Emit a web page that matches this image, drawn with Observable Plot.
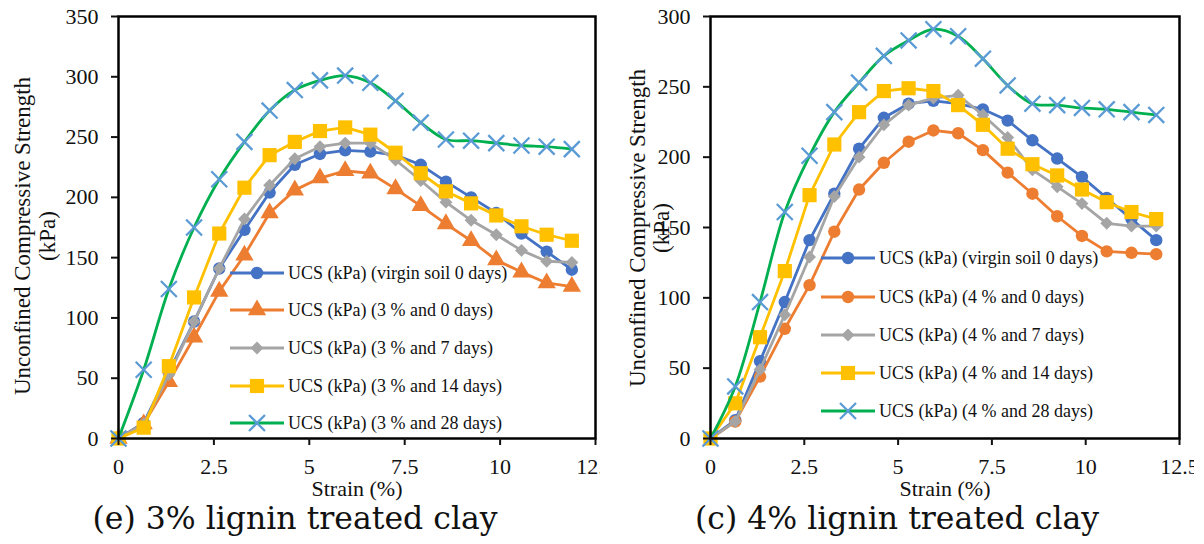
<!DOCTYPE html>
<html>
<head>
<meta charset="utf-8">
<script src="https://cdn.jsdelivr.net/npm/d3@7"></script>
<script src="https://cdn.jsdelivr.net/npm/@observablehq/plot@0.6"></script>
<style>
  html, body { margin: 0; padding: 0; background: white; }
  #wrap { position: relative; width: 1204px; height: 544px; overflow: hidden; background: white; }
  .panel { position: absolute; top: 0; height: 544px; overflow: hidden; }
  .caption { position: absolute; font-family: "DejaVu Serif", serif; font-size: 31.5px; color: #111; white-space: nowrap; transform: translateX(-50%); }
</style>
</head>
<body>
<div id="wrap">
  <div class="panel" id="left" style="left:0px; width:600px;"></div>
  <div class="panel" id="right" style="left:600px; width:594px;"></div>
  <div class="caption" style="left:295px; top:500px;">(e) 3% lignin treated clay</div>
  <div class="caption" style="left:897px; top:500px;">(c) 4% lignin treated clay</div>
</div>
<script>
// ---------------- data ----------------
const strain = [0, 0.66, 1.32, 1.98, 2.64, 3.3, 3.96, 4.62, 5.28, 5.94, 6.6, 7.26, 7.92, 8.58, 9.24, 9.9, 10.56, 11.22, 11.88];

// (e) 3% lignin treated clay
const virgin3 = [0, 13, 55, 97, 141, 173, 204, 227, 236, 239, 238, 235, 227, 213, 200, 187, 170, 155, 140];
const lig3d0  = [0, 12, 47, 84, 122, 152, 187, 206, 216, 222, 220, 207, 193, 178, 164, 148, 138, 129, 126];
const lig3d7  = [0, 12, 53, 97, 141, 182, 210, 232, 242, 245, 245, 231, 214, 196, 181, 169, 156, 147, 146];
const lig3d14 = [0, 9, 60, 117, 170, 208, 235, 246, 255, 258, 252, 237, 220, 205, 195, 185, 176, 169, 164];
const lig3d28 = [0, 57, 124, 175, 215, 246, 272, 289, 297, 301, 295, 280, 262, 248, 247, 245, 243, 242, 240];

// (c) 4% lignin treated clay
const virgin4 = [0, 13, 55, 97, 141, 174, 206, 228, 238, 240, 238, 234, 226, 212, 199, 186, 171, 156, 141];
const lig4d0  = [0, 12, 44, 78, 109, 147, 177, 196, 211, 219, 217, 205, 189, 174, 158, 144, 133, 132, 131];
const lig4d7  = [0, 12, 49, 88, 129, 172, 200, 223, 237, 242, 244, 230, 214, 191, 179, 167, 153, 151, 151];
const lig4d14 = [0, 25, 72, 119, 173, 209, 232, 247, 249, 247, 237, 223, 206, 195, 187, 177, 168, 161, 156];
const lig4d28 = [0, 37, 97, 161, 201, 232, 253, 272, 283, 291, 286, 270, 251, 238, 237, 235, 234, 232, 230];

const legend3 = ["UCS (kPa) (virgin soil 0 days)", "UCS (kPa) (3 % and 0 days)", "UCS (kPa) (3 % and 7 days)", "UCS (kPa) (3 % and 14 days)", "UCS (kPa) (3 % and 28 days)"];
const legend4 = ["UCS (kPa) (virgin soil 0 days)", "UCS (kPa) (4 % and 0 days)", "UCS (kPa) (4 % and 7 days)", "UCS (kPa) (4 % and 14 days)", "UCS (kPa) (4 % and 28 days)"];

const xTicks = [0, 2.5, 5, 7.5, 10, 12.5];
const yTicks3 = [0, 50, 100, 150, 200, 250, 300, 350];
const yTicks4 = [0, 50, 100, 150, 200, 250, 300];

const yTitle = "Unconfined Compressive Strength";
const yUnit = "(kPa)";
const xTitle = "Strain (%)";

// ---------------- styles ----------------
const lineColors   = ["#4472C4", "#ED7D31", "#A5A5A5", "#FFC000", "#00B050"];
const markerColors = ["#4472C4", "#ED7D31", "#A5A5A5", "#FFC000", "#5B9BD5"];
const symbols3 = ["circle", "triangle", "diamond2", "square", "times"];
const symbols4 = ["circle", "circle", "diamond2", "square", "times"];
const radii = {circle: 6.2, triangle: 6.8, diamond2: 5.8, square: 8, times: 7.3};
const serif = "Liberation Serif";

function makePanel(cfg) {
  const table = cfg.series.map((vals, k) => strain.map((s, i) => ({strain: s, ucs: vals[i], k})));
  const marks = [];
  table.forEach((rows, k) => {
    marks.push(Plot.line(rows, {x: "strain", y: "ucs", stroke: lineColors[k], strokeWidth: 2.8,
      curve: k === 4 ? "catmull-rom" : "linear"}));
    const sym = cfg.symbols[k];
    if (sym === "times") {
      marks.push(Plot.dot(rows, {x: "strain", y: "ucs", symbol: sym, r: radii[sym], stroke: markerColors[k], strokeWidth: 2.3, fill: "none"}));
    } else {
      marks.push(Plot.dot(rows, {x: "strain", y: "ucs", symbol: sym, r: radii[sym], fill: markerColors[k], stroke: "none"}));
    }
  });
  const svg = Plot.plot({
    width: cfg.width, height: 544,
    marginLeft: cfg.marginLeft, marginRight: cfg.marginRight, marginTop: 16, marginBottom: 106,
    style: {fontFamily: serif, fontSize: "22px", color: "#111", background: "white"},
    x: {domain: [0, 12.5]},
    y: {domain: cfg.yDomain},
    marks: [
      ...marks,
      Plot.frame({stroke: "black", strokeWidth: 2.5}),
      Plot.axisX({ticks: xTicks, tickFormat: d => String(d), tickSize: 7, tickPadding: 13, strokeWidth: 2, label: null, fontSize: 22, fill: "#111"}),
      Plot.axisY({ticks: cfg.yTicks, tickFormat: d => String(d), tickSize: 7, tickPadding: 13, strokeWidth: 2, label: null, fontSize: 22, fill: "#111"})
    ]
  });
  svg.style.maxWidth = "none";
  const s = d3.select(svg);
  // axis titles
  s.append("text").attr("transform", `translate(${cfg.yTitleX[0]},${cfg.yTitleY}) rotate(-90)`)
    .attr("text-anchor", "middle").attr("dy", "0.35em").attr("font-size", 23).attr("font-family", serif).attr("fill", "#111").text(yTitle);
  s.append("text").attr("transform", `translate(${cfg.yTitleX[1]},${cfg.yTitleY}) rotate(-90)`)
    .attr("text-anchor", "middle").attr("dy", "0.35em").attr("font-size", 23).attr("font-family", serif).attr("fill", "#111").text(yUnit);
  s.append("text").attr("x", cfg.xTitleX).attr("y", 496)
    .attr("text-anchor", "middle").attr("font-size", 22).attr("font-family", serif).attr("fill", "#111").text(xTitle);
  // legend
  const lg = s.append("g");
  cfg.legend.forEach((label, k) => {
    const y = cfg.legendY[k];
    const x1 = cfg.legendX, x2 = cfg.legendX + 54, xm = cfg.legendX + 27;
    lg.append("line").attr("x1", x1).attr("x2", x2).attr("y1", y).attr("y2", y)
      .attr("stroke", lineColors[k]).attr("stroke-width", 2.8);
    const sym = cfg.symbols[k];
    const symType = {circle: d3.symbolCircle, triangle: d3.symbolTriangle, diamond2: d3.symbolDiamond2, square: d3.symbolSquare, times: d3.symbolTimes}[sym];
    const r = radii[sym];
    const p = lg.append("path").attr("transform", `translate(${xm},${y})`)
      .attr("d", d3.symbol(symType, r * r * Math.PI)());
    if (sym === "times") p.attr("fill", "none").attr("stroke", markerColors[k]).attr("stroke-width", 2.3);
    else p.attr("fill", markerColors[k]);
    lg.append("text").attr("x", x2 + 4).attr("y", y).attr("dy", "0.35em").attr("text-anchor", "start")
      .attr("font-size", 18).attr("font-family", serif).attr("fill", "#111").text(label);
  });
  document.getElementById(cfg.id).appendChild(svg);
}

makePanel({
  id: "left", width: 600, marginLeft: 118, marginRight: 5,
  series: [virgin3, lig3d0, lig3d7, lig3d14, lig3d28], symbols: symbols3,
  yDomain: [0, 350], yTicks: yTicks3, legend: legend3,
  yTitleX: [22, 47], yTitleY: 236, xTitleX: 357,
  legendX: 230, legendY: [273, 310, 348, 386, 423]
});
makePanel({
  id: "right", width: 604, marginLeft: 110, marginRight: 25,
  series: [virgin4, lig4d0, lig4d7, lig4d14, lig4d28], symbols: symbols4,
  yDomain: [0, 300], yTicks: yTicks4, legend: legend4,
  yTitleX: [37, 61], yTitleY: 228, xTitleX: 345,
  legendX: 221, legendY: [258, 297, 335, 373, 411]
});
</script>
</body>
</html>
